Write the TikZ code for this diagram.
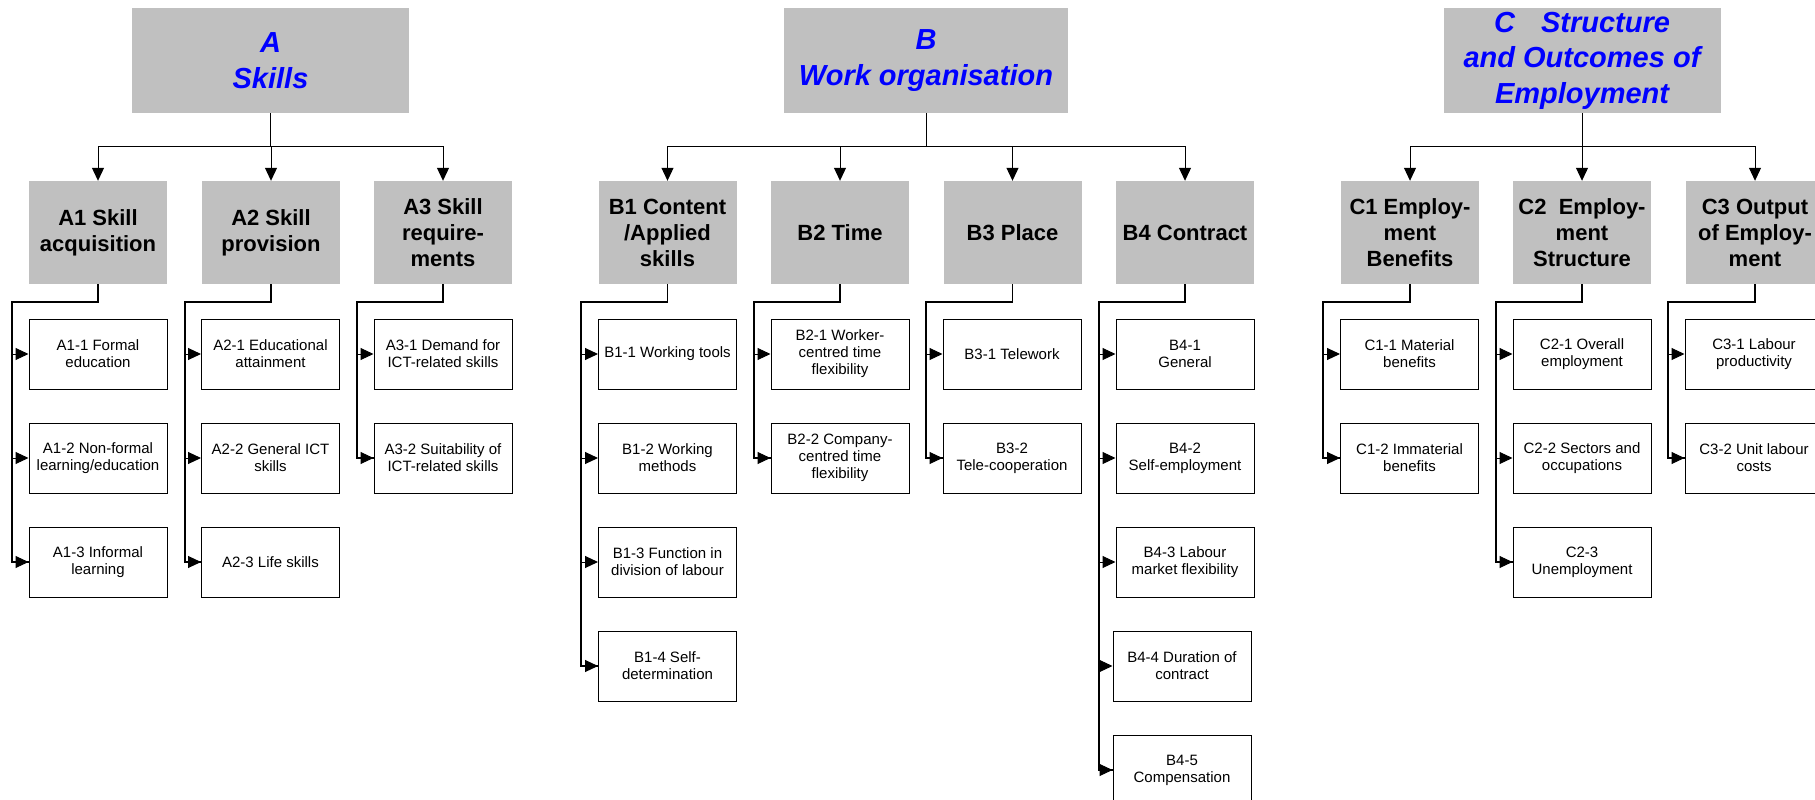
\documentclass[tikz,border=0pt]{standalone}
\usepackage{fontspec}
\setmainfont{Liberation Sans}
\usepackage{tikz}
\usetikzlibrary{arrows.meta}
\definecolor{boxgrey}{RGB}{192,192,192}
\definecolor{titleblue}{RGB}{0,0,255}

\begin{document}
\begin{tikzpicture}[x=1pt,y=-1pt]
                \tikzset{area/.style = {shape=rectangle,fill=boxgrey,minimum width=277pt,minimum height=105pt,inner sep=0pt,align=center,text=titleblue,font=\fontsize{29pt}{35.5pt}\selectfont\bfseries\itshape}}
                \tikzset{group/.style = {shape=rectangle,fill=boxgrey,minimum width=138pt,minimum height=103pt,inner sep=0pt,align=center,font=\fontsize{22pt}{26pt}\selectfont\bfseries}}
                \tikzset{item/.style = {shape=rectangle,draw,fill=white,line width=1pt,minimum width=138pt,minimum height=70pt,inner sep=0pt,align=center,font=\fontsize{15pt}{17pt}\selectfont}}
                \tikzset{edge/.style = {-{Triangle[length=13pt,width=12pt]},line width=1pt}}
                \tikzset{trunk/.style = {line width=1.5pt}}
                \useasboundingbox (0,0) rectangle (1815,800);
                \clip (0,0) rectangle (1815,800);
                % top areas
                \node[area] (A) at (270.5,60.5) {A\\Skills};
                \node[area, minimum width=284pt] (B) at (926,60.5) {B\\Work organisation};
                \node[area] (C) at (1582,60.5) {C\hspace{26pt}Structure\\and Outcomes of\\Employment};
                \coordinate (Abus) at (270.5,146);
                \coordinate (Bbus) at (926,146);
                \coordinate (Cbus) at (1582,146);

                % groups
                \node[group] (A1) at (98,232.5) {A1 Skill\\acquisition};
                \node[group] (A2) at (271,232.5) {A2 Skill\\provision};
                \node[group] (A3) at (443,232.5) {A3 Skill\\require-\\ments};
                \node[group] (B1) at (667.5,232.5) {B1 Content\\/Applied\\skills};
                \node[group] (B2) at (840,232.5) {B2 Time};
                \node[group] (B3) at (1012.5,232.5) {B3 Place};
                \node[group] (B4) at (1185,232.5) {B4 Contract};
                \node[group] (C1) at (1410,232.5) {C1 Employ-\\ment\\Benefits};
                \node[group] (C2) at (1582,232.5) {C2\ \ Employ-\\ment\\Structure};
                \node[group] (C3) at (1755,232.5) {C3 Output\\of Employ-\\ment};
                \coordinate (A1k) at (12,302);
                \coordinate (A2k) at (185,302);
                \coordinate (A3k) at (357,302);
                \coordinate (B1k) at (581,302);
                \coordinate (B2k) at (754,302);
                \coordinate (B3k) at (926,302);
                \coordinate (B4k) at (1099,302);
                \coordinate (C1k) at (1323,302);
                \coordinate (C2k) at (1496,302);
                \coordinate (C3k) at (1668,302);

                % items
                \node[item] (A11) at (98,354) {A1-1 Formal\\education};
                \node[item] (A12) at (98,458) {A1-2 Non-formal\\learning/education};
                \node[item] (A13) at (98,562) {A1-3 Informal\\learning};
                \node[item] (A21) at (270.5,354) {A2-1 Educational\\attainment};
                \node[item] (A22) at (270.5,458) {A2-2 General ICT\\skills};
                \node[item] (A23) at (270.5,562) {A2-3 Life skills};
                \node[item] (A31) at (443,354) {A3-1 Demand for\\ICT-related skills};
                \node[item] (A32) at (443,458) {A3-2 Suitability of\\ICT-related skills};
                \node[item] (B11) at (667.5,354) {B1-1 Working tools};
                \node[item] (B12) at (667.5,458) {B1-2 Working\\methods};
                \node[item] (B13) at (667.5,562) {B1-3 Function in\\division of labour};
                \node[item] (B14) at (667.5,666) {B1-4 Self-\\determination};
                \node[item] (B21) at (840,354) {B2-1 Worker-\\centred time\\flexibility};
                \node[item] (B22) at (840,458) {B2-2 Company-\\centred time\\flexibility};
                \node[item] (B31) at (1012,354) {B3-1 Telework};
                \node[item] (B32) at (1012,458) {B3-2\\Tele-cooperation};
                \node[item] (B41) at (1185,354) {B4-1\\General};
                \node[item] (B42) at (1185,458) {B4-2\\Self-employment};
                \node[item] (B43) at (1185,562) {B4-3 Labour\\market flexibility};
                \node[item] (B44) at (1182,666) {B4-4 Duration of\\contract};
                \node[item] (B45) at (1182,770) {B4-5\\Compensation};
                \node[item] (C11) at (1409.5,354) {C1-1 Material\\benefits};
                \node[item] (C12) at (1409.5,458) {C1-2 Immaterial\\benefits};
                \node[item] (C21) at (1582,354) {C2-1 Overall\\employment};
                \node[item] (C22) at (1582,458) {C2-2 Sectors and\\occupations};
                \node[item] (C23) at (1582,562) {C2-3\\Unemployment};
                \node[item] (C31) at (1754,354) {C3-1 Labour\\productivity};
                \node[item] (C32) at (1754,458) {C3-2 Unit labour\\costs};

                %edges
                \draw[edge] (A.south) -- (Abus) -| (A1.north);
                \draw[edge] (A.south) -- (Abus) -| (A2.north);
                \draw[edge] (A.south) -- (Abus) -| (A3.north);
                \draw[edge] (B.south) -- (Bbus) -| (B1.north);
                \draw[edge] (B.south) -- (Bbus) -| (B2.north);
                \draw[edge] (B.south) -- (Bbus) -| (B3.north);
                \draw[edge] (B.south) -- (Bbus) -| (B4.north);
                \draw[edge] (C.south) -- (Cbus) -| (C1.north);
                \draw[edge] (C.south) -- (Cbus) -| (C2.north);
                \draw[edge] (C.south) -- (Cbus) -| (C3.north);

                \draw[trunk] (A1.south) |- (A1k) |- (A13.west);
                \draw[trunk] (A2.south) |- (A2k) |- (A23.west);
                \draw[trunk] (A3.south) |- (A3k) |- (A32.west);
                \draw[trunk] (B1.south) |- (B1k) |- (B14.west);
                \draw[trunk] (B2.south) |- (B2k) |- (B22.west);
                \draw[trunk] (B3.south) |- (B3k) |- (B32.west);
                \draw[trunk] (B4.south) |- (B4k) |- (B45.west);
                \draw[trunk] (C1.south) |- (C1k) |- (C12.west);
                \draw[trunk] (C2.south) |- (C2k) |- (C23.west);
                \draw[trunk] (C3.south) |- (C3k) |- (C32.west);

                \draw[edge] (A1k) |- (A11.west);
                \draw[edge] (A1k) |- (A12.west);
                \draw[edge] (A1k) |- (A13.west);
                \draw[edge] (A2k) |- (A21.west);
                \draw[edge] (A2k) |- (A22.west);
                \draw[edge] (A2k) |- (A23.west);
                \draw[edge] (A3k) |- (A31.west);
                \draw[edge] (A3k) |- (A32.west);
                \draw[edge] (B1k) |- (B11.west);
                \draw[edge] (B1k) |- (B12.west);
                \draw[edge] (B1k) |- (B13.west);
                \draw[edge] (B1k) |- (B14.west);
                \draw[edge] (B2k) |- (B21.west);
                \draw[edge] (B2k) |- (B22.west);
                \draw[edge] (B3k) |- (B31.west);
                \draw[edge] (B3k) |- (B32.west);
                \draw[edge] (B4k) |- (B41.west);
                \draw[edge] (B4k) |- (B42.west);
                \draw[edge] (B4k) |- (B43.west);
                \draw[edge] (B4k) |- (B44.west);
                \draw[edge] (B4k) |- (B45.west);
                \draw[edge] (C1k) |- (C11.west);
                \draw[edge] (C1k) |- (C12.west);
                \draw[edge] (C2k) |- (C21.west);
                \draw[edge] (C2k) |- (C22.west);
                \draw[edge] (C2k) |- (C23.west);
                \draw[edge] (C3k) |- (C31.west);
                \draw[edge] (C3k) |- (C32.west);
\end{tikzpicture}
\end{document}
